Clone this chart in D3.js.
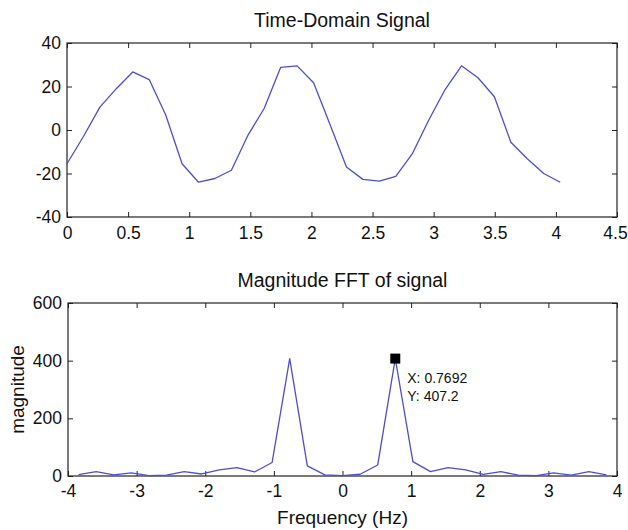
<!DOCTYPE html>
<html>
<head>
<meta charset="utf-8">
<script src="https://cdn.jsdelivr.net/npm/d3@7"></script>
<style>
    body { margin: 0; background: #fff; }
    svg text { font-family: "Liberation Sans", Arial, Helvetica, sans-serif; fill: #111; }
    .tick line { stroke: #222; }
</style>
</head>
<body>
<div id="chart"></div>
<script>
// time-domain samples (s) and signal values
const timeValues = [0, 0.1345, 0.269, 0.4035, 0.538, 0.6725, 0.807, 0.9415, 1.076, 1.2105,
    1.345, 1.4795, 1.614, 1.7485, 1.883, 2.0175, 2.152, 2.2865, 2.421, 2.5555,
    2.69, 2.8245, 2.959, 3.0935, 3.228, 3.3625, 3.497, 3.6315, 3.766, 3.9005, 4.035];
const signalValues = [-15.5, -3, 10.5, 19, 26.7, 23.2, 7, -15.5, -24, -22.3,
    -18.5, -2.5, 10, 28.8, 29.5, 21.7, 2.5, -17, -22.7, -23.5,
    -21.3, -11, 4.5, 18.6, 29.5, 24, 15.3, -5.6, -13.2, -20, -24];

// FFT bins (Hz) and magnitudes
const freqValues = [-3.8462, -3.5897, -3.3333, -3.0769, -2.8205, -2.5641, -2.3077, -2.0513,
    -1.7949, -1.5385, -1.2821, -1.0256, -0.7692, -0.5128, -0.2564, 0, 0.2564, 0.5128,
    0.7692, 1.0256, 1.2821, 1.5385, 1.7949, 2.0513, 2.3077, 2.5641, 2.8205, 3.0769,
    3.3333, 3.5897, 3.8462];
const magValues = [5, 15, 4, 11, 1, 3, 15, 7, 21, 29, 14, 47, 407.2, 35, 4, 1, 6, 38,
    407.2, 50, 15, 29, 21, 6, 15, 3, 1, 11, 3, 15, 4];

const timeTicks = [0, 0.5, 1, 1.5, 2, 2.5, 3, 3.5, 4, 4.5];
const signalTicks = [-40, -20, 0, 20, 40];
const freqTicks = [-4, -3, -2, -1, 0, 1, 2, 3, 4];
const magTicks = [0, 200, 400, 600];
const cursorPoint = {x: 0.7692, y: 407.2};

const w = 628, h = 530,
      lineColor = "#4d4dd2",
      tickLen = 5;

let svg = d3.select("#chart")
    .append("svg")
    .attr("width", w)
    .attr("height", h);

// plain hyphen minus, as matlab prints it
function fmt(d) {
    return String(d);
}

function drawPanel(opts) {
    let x = d3.scaleLinear().domain(opts.xDomain).range([opts.left, opts.right]);
    let y = d3.scaleLinear().domain(opts.yDomain).range([opts.bottom, opts.top]);

    let g = svg.append("g");

    // inward ticks on all four sides, like a boxed matlab axes
    let xb = g.append("g")
        .attr("transform", "translate(0," + opts.bottom + ")")
        .call(d3.axisBottom(x).tickValues(opts.xTicks).tickFormat(fmt)
            .tickSizeInner(-tickLen).tickSizeOuter(0).tickPadding(opts.xPad))
        .call(function (a) { a.select(".domain").remove(); });
    xb.selectAll("text").style("font-size", "17.5px");
    // keep the last label inside the window
    xb.selectAll(".tick:last-of-type text").attr("dx", opts.lastDx);

    g.append("g")
        .attr("transform", "translate(0," + opts.top + ")")
        .call(d3.axisTop(x).tickValues(opts.xTicks).tickFormat("")
            .tickSizeInner(-tickLen).tickSizeOuter(0))
        .call(function (a) { a.select(".domain").remove(); });

    g.append("g")
        .attr("transform", "translate(" + opts.left + ",0)")
        .call(d3.axisLeft(y).tickValues(opts.yTicks).tickFormat(fmt)
            .tickSizeInner(-tickLen).tickSizeOuter(0).tickPadding(6))
        .call(function (a) { a.select(".domain").remove(); })
        .selectAll("text").style("font-size", "17.5px");

    g.append("g")
        .attr("transform", "translate(" + opts.right + ",0)")
        .call(d3.axisRight(y).tickValues(opts.yTicks).tickFormat("")
            .tickSizeInner(-tickLen).tickSizeOuter(0))
        .call(function (a) { a.select(".domain").remove(); });

    g.selectAll(".tick text").attr("fill", "#111");

    g.append("rect")
        .attr("x", opts.left)
        .attr("y", opts.top)
        .attr("width", opts.right - opts.left)
        .attr("height", opts.bottom - opts.top)
        .attr("fill", "none")
        .attr("stroke", "#222")
        .attr("stroke-width", 1.2);

    let pts = opts.xs.map(function (v, i) { return [v, opts.ys[i]]; });

    g.append("path")
        .datum(pts)
        .attr("fill", "none")
        .attr("stroke", lineColor)
        .attr("stroke-width", 1.3)
        .attr("stroke-linejoin", "round")
        .attr("d", d3.line()
            .x(function (d) { return x(d[0]); })
            .y(function (d) { return y(d[1]); }));

    g.append("text")
        .attr("x", (opts.left + opts.right) / 2)
        .attr("y", opts.titleY)
        .attr("text-anchor", "middle")
        .style("font-size", "19.5px")
        .text(opts.title);

    return {x: x, y: y, g: g};
}

drawPanel({
    left: 67, right: 617, top: 43, bottom: 217,
    xDomain: [0, 4.5], yDomain: [-40, 40],
    xTicks: timeTicks, yTicks: signalTicks, xPad: 10, lastDx: -2,
    xs: timeValues, ys: signalValues,
    title: "Time-Domain Signal", titleY: 27
});

let fft = drawPanel({
    left: 68, right: 617, top: 303, bottom: 476,
    xDomain: [-4, 4], yDomain: [0, 600],
    xTicks: freqTicks, yTicks: magTicks, xPad: 9, lastDx: 0,
    xs: freqValues, ys: magValues,
    title: "Magnitude FFT of signal", titleY: 287
});

// axis labels
svg.append("text")
    .attr("x", (68 + 617) / 2)
    .attr("y", 524)
    .attr("text-anchor", "middle")
    .style("font-size", "19px")
    .text("Frequency (Hz)");

svg.append("text")
    .attr("transform", "translate(23.5," + (303 + 476) / 2 + ")rotate(-90)")
    .attr("text-anchor", "middle")
    .style("font-size", "19px")
    .text("magnitude");

// data cursor
let cx = fft.x(cursorPoint.x), cy = fft.y(cursorPoint.y);
fft.g.append("rect")
    .attr("x", cx - 5)
    .attr("y", cy - 5)
    .attr("width", 10)
    .attr("height", 10)
    .attr("fill", "#000");

fft.g.append("text")
    .attr("x", cx + 12)
    .attr("y", cy + 24)
    .style("font-size", "14px")
    .text("X: " + cursorPoint.x);

fft.g.append("text")
    .attr("x", cx + 12)
    .attr("y", cy + 42)
    .style("font-size", "14px")
    .text("Y: " + cursorPoint.y);
</script>
</body>
</html>
